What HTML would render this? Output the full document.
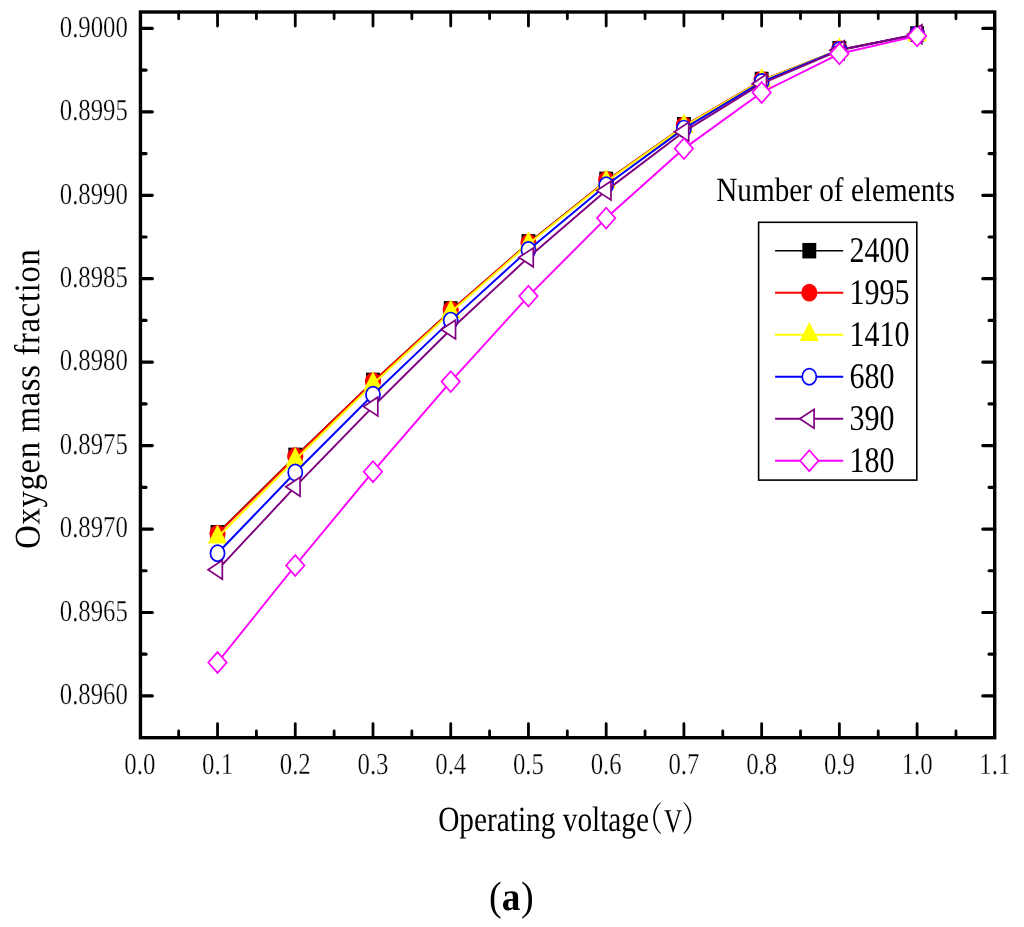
<!DOCTYPE html>
<html><head><meta charset="utf-8"><title>Oxygen mass fraction</title>
<style>html,body{margin:0;padding:0;background:#fff}svg{display:block}text{font-family:"Liberation Serif","Noto Serif CJK SC",serif;fill:#000}.t{stroke:#fff;stroke-width:0.3px}</style></head><body>
<svg width="1024" height="927" viewBox="0 0 1024 927">
<rect width="1024" height="927" fill="#fff"/>
<polyline points="217.53,533.10 295.26,456.20 372.99,381.40 450.72,310.45 528.45,242.90 606.18,180.90 683.91,126.00 761.64,80.40 839.37,49.70 917.10,34.50" fill="none" stroke="#000" stroke-width="1.4" stroke-linejoin="round"/>
<rect x="210.58" y="525.05" width="13.9" height="15.5" fill="#000"/>
<rect x="288.31" y="447.65" width="13.9" height="15.5" fill="#000"/>
<rect x="366.04" y="372.65" width="13.9" height="15.5" fill="#000"/>
<rect x="443.77" y="301.15" width="13.9" height="15.5" fill="#000"/>
<rect x="521.50" y="234.15" width="13.9" height="15.5" fill="#000"/>
<rect x="599.23" y="171.65" width="13.9" height="15.5" fill="#000"/>
<rect x="676.96" y="117.05" width="13.9" height="15.5" fill="#000"/>
<rect x="754.69" y="71.75" width="13.9" height="15.5" fill="#000"/>
<rect x="832.42" y="40.95" width="13.9" height="15.5" fill="#000"/>
<rect x="910.15" y="26.25" width="13.9" height="15.5" fill="#000"/>
<polyline points="217.53,533.90 295.26,457.00 372.99,382.00 450.72,310.85 528.45,243.20 606.18,181.10 683.91,126.20 761.64,80.50 839.37,49.80 917.10,34.60" fill="none" stroke="#f00" stroke-width="1.95" stroke-linejoin="round"/>
<ellipse cx="217.53" cy="533.60" rx="8.1" ry="8.9" fill="#f00"/>
<ellipse cx="295.26" cy="456.20" rx="8.1" ry="8.9" fill="#f00"/>
<ellipse cx="372.99" cy="381.20" rx="8.1" ry="8.9" fill="#f00"/>
<ellipse cx="450.72" cy="309.70" rx="8.1" ry="8.9" fill="#f00"/>
<ellipse cx="528.45" cy="242.70" rx="8.1" ry="8.9" fill="#f00"/>
<ellipse cx="606.18" cy="180.00" rx="8.1" ry="8.9" fill="#f00"/>
<ellipse cx="683.91" cy="125.30" rx="8.1" ry="8.9" fill="#f00"/>
<ellipse cx="761.64" cy="80.00" rx="8.1" ry="8.9" fill="#f00"/>
<ellipse cx="839.37" cy="49.00" rx="8.1" ry="8.9" fill="#f00"/>
<ellipse cx="917.10" cy="34.20" rx="8.1" ry="8.9" fill="#f00"/>
<polyline points="217.53,537.20 295.26,459.80 372.99,384.00 450.72,312.20 528.45,244.00 606.18,181.70 683.91,126.60 761.64,80.80 839.37,50.00 917.10,34.70" fill="none" stroke="#ff0" stroke-width="1.95" stroke-linejoin="round"/>
<polygon points="217.53,524.40 207.83,543.60 227.23,543.60" fill="#ff0"/>
<polygon points="295.26,447.00 285.56,466.20 304.96,466.20" fill="#ff0"/>
<polygon points="372.99,371.20 363.29,390.40 382.69,390.40" fill="#ff0"/>
<polygon points="450.72,299.40 441.02,318.60 460.42,318.60" fill="#ff0"/>
<polygon points="528.45,231.20 518.75,250.40 538.15,250.40" fill="#ff0"/>
<polygon points="606.18,168.90 596.48,188.10 615.88,188.10" fill="#ff0"/>
<polygon points="683.91,113.80 674.21,133.00 693.61,133.00" fill="#ff0"/>
<polygon points="761.64,68.00 751.94,87.20 771.34,87.20" fill="#ff0"/>
<polygon points="839.37,37.20 829.67,56.40 849.07,56.40" fill="#ff0"/>
<polygon points="917.10,21.90 907.40,41.10 926.80,41.10" fill="#ff0"/>
<polyline points="217.53,553.20 295.26,472.50 372.99,394.70 450.72,320.60 528.45,249.90 606.18,185.30 683.91,128.60 761.64,81.90 839.37,50.00 917.10,34.50" fill="none" stroke="#00f" stroke-width="1.95" stroke-linejoin="round"/>
<ellipse cx="217.53" cy="553.20" rx="7.05" ry="8.1" fill="#fff" stroke="#00f" stroke-width="1.7"/>
<ellipse cx="295.26" cy="472.50" rx="7.05" ry="8.1" fill="#fff" stroke="#00f" stroke-width="1.7"/>
<ellipse cx="372.99" cy="394.70" rx="7.05" ry="8.1" fill="#fff" stroke="#00f" stroke-width="1.7"/>
<ellipse cx="450.72" cy="320.60" rx="7.05" ry="8.1" fill="#fff" stroke="#00f" stroke-width="1.7"/>
<ellipse cx="528.45" cy="249.90" rx="7.05" ry="8.1" fill="#fff" stroke="#00f" stroke-width="1.7"/>
<ellipse cx="606.18" cy="185.30" rx="7.05" ry="8.1" fill="#fff" stroke="#00f" stroke-width="1.7"/>
<ellipse cx="683.91" cy="128.60" rx="7.05" ry="8.1" fill="#fff" stroke="#00f" stroke-width="1.7"/>
<ellipse cx="761.64" cy="81.90" rx="7.05" ry="8.1" fill="#fff" stroke="#00f" stroke-width="1.7"/>
<ellipse cx="839.37" cy="50.00" rx="7.05" ry="8.1" fill="#fff" stroke="#00f" stroke-width="1.7"/>
<ellipse cx="917.10" cy="34.50" rx="7.05" ry="8.1" fill="#fff" stroke="#00f" stroke-width="1.7"/>
<polyline points="217.53,569.80 295.26,486.70 372.99,406.60 450.72,329.50 528.45,257.40 606.18,190.60 683.91,131.70 761.64,83.70 839.37,50.30 917.10,34.30" fill="none" stroke="#800080" stroke-width="1.95" stroke-linejoin="round"/>
<polygon points="208.03,569.80 222.33,560.40 222.33,579.20" fill="#fff" stroke="#800080" stroke-width="1.7" stroke-linejoin="miter"/>
<polygon points="285.76,486.70 300.06,477.30 300.06,496.10" fill="#fff" stroke="#800080" stroke-width="1.7" stroke-linejoin="miter"/>
<polygon points="363.49,406.60 377.79,397.20 377.79,416.00" fill="#fff" stroke="#800080" stroke-width="1.7" stroke-linejoin="miter"/>
<polygon points="441.22,329.50 455.52,320.10 455.52,338.90" fill="#fff" stroke="#800080" stroke-width="1.7" stroke-linejoin="miter"/>
<polygon points="518.95,257.40 533.25,248.00 533.25,266.80" fill="#fff" stroke="#800080" stroke-width="1.7" stroke-linejoin="miter"/>
<polygon points="596.68,190.60 610.98,181.20 610.98,200.00" fill="#fff" stroke="#800080" stroke-width="1.7" stroke-linejoin="miter"/>
<polygon points="674.41,131.70 688.71,122.30 688.71,141.10" fill="#fff" stroke="#800080" stroke-width="1.7" stroke-linejoin="miter"/>
<polygon points="752.14,83.70 766.44,74.30 766.44,93.10" fill="#fff" stroke="#800080" stroke-width="1.7" stroke-linejoin="miter"/>
<polygon points="829.87,50.30 844.17,40.90 844.17,59.70" fill="#fff" stroke="#800080" stroke-width="1.7" stroke-linejoin="miter"/>
<polygon points="907.60,34.30 921.90,24.90 921.90,43.70" fill="#fff" stroke="#800080" stroke-width="1.7" stroke-linejoin="miter"/>
<polyline points="217.53,662.50 295.26,565.50 372.99,471.70 450.72,381.60 528.45,296.10 606.18,218.10 683.91,148.60 761.64,92.50 839.37,53.80 917.10,35.90" fill="none" stroke="#f0f" stroke-width="1.95" stroke-linejoin="round"/>
<polygon points="217.53,652.10 226.73,662.50 217.53,672.90 208.33,662.50" fill="#fff" stroke="#f0f" stroke-width="1.7" stroke-linejoin="miter"/>
<polygon points="295.26,555.10 304.46,565.50 295.26,575.90 286.06,565.50" fill="#fff" stroke="#f0f" stroke-width="1.7" stroke-linejoin="miter"/>
<polygon points="372.99,461.30 382.19,471.70 372.99,482.10 363.79,471.70" fill="#fff" stroke="#f0f" stroke-width="1.7" stroke-linejoin="miter"/>
<polygon points="450.72,371.20 459.92,381.60 450.72,392.00 441.52,381.60" fill="#fff" stroke="#f0f" stroke-width="1.7" stroke-linejoin="miter"/>
<polygon points="528.45,285.70 537.65,296.10 528.45,306.50 519.25,296.10" fill="#fff" stroke="#f0f" stroke-width="1.7" stroke-linejoin="miter"/>
<polygon points="606.18,207.70 615.38,218.10 606.18,228.50 596.98,218.10" fill="#fff" stroke="#f0f" stroke-width="1.7" stroke-linejoin="miter"/>
<polygon points="683.91,138.20 693.11,148.60 683.91,159.00 674.71,148.60" fill="#fff" stroke="#f0f" stroke-width="1.7" stroke-linejoin="miter"/>
<polygon points="761.64,82.10 770.84,92.50 761.64,102.90 752.44,92.50" fill="#fff" stroke="#f0f" stroke-width="1.7" stroke-linejoin="miter"/>
<polygon points="839.37,43.40 848.57,53.80 839.37,64.20 830.17,53.80" fill="#fff" stroke="#f0f" stroke-width="1.7" stroke-linejoin="miter"/>
<polygon points="917.10,25.50 926.30,35.90 917.10,46.30 907.90,35.90" fill="#fff" stroke="#f0f" stroke-width="1.7" stroke-linejoin="miter"/>
<rect x="140.45" y="12.0" width="854.25" height="725.70" fill="none" stroke="#000" stroke-width="3.4"/>
<path d="M178.67,737.7 v-6.8 M178.67,12.0 v6.8 M217.53,737.7 v-14.0 M217.53,12.0 v14.0 M256.40,737.7 v-6.8 M256.40,12.0 v6.8 M295.26,737.7 v-14.0 M295.26,12.0 v14.0 M334.12,737.7 v-6.8 M334.12,12.0 v6.8 M372.99,737.7 v-14.0 M372.99,12.0 v14.0 M411.86,737.7 v-6.8 M411.86,12.0 v6.8 M450.72,737.7 v-14.0 M450.72,12.0 v14.0 M489.58,737.7 v-6.8 M489.58,12.0 v6.8 M528.45,737.7 v-14.0 M528.45,12.0 v14.0 M567.32,737.7 v-6.8 M567.32,12.0 v6.8 M606.18,737.7 v-14.0 M606.18,12.0 v14.0 M645.05,737.7 v-6.8 M645.05,12.0 v6.8 M683.91,737.7 v-14.0 M683.91,12.0 v14.0 M722.77,737.7 v-6.8 M722.77,12.0 v6.8 M761.64,737.7 v-14.0 M761.64,12.0 v14.0 M800.51,737.7 v-6.8 M800.51,12.0 v6.8 M839.37,737.7 v-14.0 M839.37,12.0 v14.0 M878.24,737.7 v-6.8 M878.24,12.0 v6.8 M917.10,737.7 v-14.0 M917.10,12.0 v14.0 M955.96,737.7 v-6.8 M955.96,12.0 v6.8" fill="none" stroke="#000" stroke-width="2.8" stroke-linecap="round"/>
<path d="M140.45,28.40 h11.9 M994.7,28.40 h-11.9 M140.45,70.12 h5.6 M994.7,70.12 h-5.6 M140.45,111.84 h11.9 M994.7,111.84 h-11.9 M140.45,153.56 h5.6 M994.7,153.56 h-5.6 M140.45,195.28 h11.9 M994.7,195.28 h-11.9 M140.45,237.00 h5.6 M994.7,237.00 h-5.6 M140.45,278.72 h11.9 M994.7,278.72 h-11.9 M140.45,320.44 h5.6 M994.7,320.44 h-5.6 M140.45,362.16 h11.9 M994.7,362.16 h-11.9 M140.45,403.88 h5.6 M994.7,403.88 h-5.6 M140.45,445.60 h11.9 M994.7,445.60 h-11.9 M140.45,487.32 h5.6 M994.7,487.32 h-5.6 M140.45,529.04 h11.9 M994.7,529.04 h-11.9 M140.45,570.76 h5.6 M994.7,570.76 h-5.6 M140.45,612.48 h11.9 M994.7,612.48 h-11.9 M140.45,654.20 h5.6 M994.7,654.20 h-5.6 M140.45,695.92 h11.9 M994.7,695.92 h-11.9" fill="none" stroke="#000" stroke-width="3.2" stroke-linecap="round"/>
<text transform="translate(139.80,773.7) rotate(0.03) scale(0.813,1)" font-size="30.5" text-anchor="middle" class="t">0.0</text>
<text transform="translate(217.53,773.7) rotate(0.03) scale(0.813,1)" font-size="30.5" text-anchor="middle" class="t">0.1</text>
<text transform="translate(295.26,773.7) rotate(0.03) scale(0.813,1)" font-size="30.5" text-anchor="middle" class="t">0.2</text>
<text transform="translate(372.99,773.7) rotate(0.03) scale(0.813,1)" font-size="30.5" text-anchor="middle" class="t">0.3</text>
<text transform="translate(450.72,773.7) rotate(0.03) scale(0.813,1)" font-size="30.5" text-anchor="middle" class="t">0.4</text>
<text transform="translate(528.45,773.7) rotate(0.03) scale(0.813,1)" font-size="30.5" text-anchor="middle" class="t">0.5</text>
<text transform="translate(606.18,773.7) rotate(0.03) scale(0.813,1)" font-size="30.5" text-anchor="middle" class="t">0.6</text>
<text transform="translate(683.91,773.7) rotate(0.03) scale(0.813,1)" font-size="30.5" text-anchor="middle" class="t">0.7</text>
<text transform="translate(761.64,773.7) rotate(0.03) scale(0.813,1)" font-size="30.5" text-anchor="middle" class="t">0.8</text>
<text transform="translate(839.37,773.7) rotate(0.03) scale(0.813,1)" font-size="30.5" text-anchor="middle" class="t">0.9</text>
<text transform="translate(917.10,773.7) rotate(0.03) scale(0.813,1)" font-size="30.5" text-anchor="middle" class="t">1.0</text>
<text transform="translate(994.83,773.7) rotate(0.03) scale(0.813,1)" font-size="30.5" text-anchor="middle" class="t">1.1</text>
<text transform="translate(127.9,36.70) rotate(0.03) scale(0.813,1)" font-size="30.5" text-anchor="end" class="t">0.9000</text>
<text transform="translate(127.9,120.14) rotate(0.03) scale(0.813,1)" font-size="30.5" text-anchor="end" class="t">0.8995</text>
<text transform="translate(127.9,203.58) rotate(0.03) scale(0.813,1)" font-size="30.5" text-anchor="end" class="t">0.8990</text>
<text transform="translate(127.9,287.02) rotate(0.03) scale(0.813,1)" font-size="30.5" text-anchor="end" class="t">0.8985</text>
<text transform="translate(127.9,370.46) rotate(0.03) scale(0.813,1)" font-size="30.5" text-anchor="end" class="t">0.8980</text>
<text transform="translate(127.9,453.90) rotate(0.03) scale(0.813,1)" font-size="30.5" text-anchor="end" class="t">0.8975</text>
<text transform="translate(127.9,537.34) rotate(0.03) scale(0.813,1)" font-size="30.5" text-anchor="end" class="t">0.8970</text>
<text transform="translate(127.9,620.78) rotate(0.03) scale(0.813,1)" font-size="30.5" text-anchor="end" class="t">0.8965</text>
<text transform="translate(127.9,704.22) rotate(0.03) scale(0.813,1)" font-size="30.5" text-anchor="end" class="t">0.8960</text>
<text id="xt" transform="translate(438.2,831.3) rotate(0.03) scale(0.826,1)" font-size="35.5">Operating voltage</text>
<text id="xp1" transform="translate(635.6,831) rotate(0.03) scale(0.8,1)" font-size="34">（</text>
<text id="xv" transform="translate(663.9,832.4) rotate(0.03) scale(0.75,1)" font-size="33.4">V</text>
<text id="xp2" transform="translate(681.7,831) rotate(0.03) scale(0.8,1)" font-size="34">）</text>
<text id="yt" transform="translate(39.4,548.8) rotate(-90.03) scale(0.905,1)" font-size="36" letter-spacing="0.8">Oxygen mass fraction</text>
<text id="cap1" transform="translate(488.9,910) rotate(0.03) scale(0.93,1)" font-size="41">(</text>
<text id="cap2" transform="translate(501.7,910) rotate(0.03) scale(0.93,1)" font-size="40" font-weight="bold">a</text>
<text id="cap3" transform="translate(521.0,910) rotate(0.03) scale(0.93,1)" font-size="41">)</text>
<text id="lt" transform="translate(716.2,201) rotate(0.03) scale(0.86,1)" font-size="34">Number of elements</text>
<rect x="758.6" y="222.3" width="158.2" height="257.8" fill="#fff" stroke="#000" stroke-width="1.6"/>
<line x1="775.1" y1="250.70" x2="843.2" y2="250.70" stroke="#000" stroke-width="1.4"/>
<rect x="802.35" y="242.95" width="13.9" height="15.5" fill="#000"/>
<text transform="translate(849.6,262.10) rotate(0.03) scale(0.828,1)" font-size="36.2">2400</text>
<line x1="775.1" y1="292.70" x2="843.2" y2="292.70" stroke="#f00" stroke-width="1.95"/>
<ellipse cx="809.30" cy="292.70" rx="8.1" ry="8.9" fill="#f00"/>
<text transform="translate(849.6,304.10) rotate(0.03) scale(0.828,1)" font-size="36.2">1995</text>
<line x1="775.1" y1="334.70" x2="843.2" y2="334.70" stroke="#ff0" stroke-width="1.95"/>
<polygon points="809.30,321.90 799.60,341.10 819.00,341.10" fill="#ff0"/>
<text transform="translate(849.6,346.10) rotate(0.03) scale(0.828,1)" font-size="36.2">1410</text>
<line x1="775.1" y1="376.70" x2="843.2" y2="376.70" stroke="#00f" stroke-width="1.95"/>
<ellipse cx="809.30" cy="376.70" rx="7.05" ry="8.1" fill="#fff" stroke="#00f" stroke-width="1.7"/>
<text transform="translate(849.6,388.10) rotate(0.03) scale(0.828,1)" font-size="36.2">680</text>
<line x1="775.1" y1="418.70" x2="843.2" y2="418.70" stroke="#800080" stroke-width="1.95"/>
<polygon points="799.80,418.70 814.10,409.30 814.10,428.10" fill="#fff" stroke="#800080" stroke-width="1.7" stroke-linejoin="miter"/>
<text transform="translate(849.6,430.10) rotate(0.03) scale(0.828,1)" font-size="36.2">390</text>
<line x1="775.1" y1="460.70" x2="843.2" y2="460.70" stroke="#f0f" stroke-width="1.95"/>
<polygon points="809.30,450.30 818.50,460.70 809.30,471.10 800.10,460.70" fill="#fff" stroke="#f0f" stroke-width="1.7" stroke-linejoin="miter"/>
<text transform="translate(849.6,472.10) rotate(0.03) scale(0.828,1)" font-size="36.2">180</text>
</svg></body></html>
